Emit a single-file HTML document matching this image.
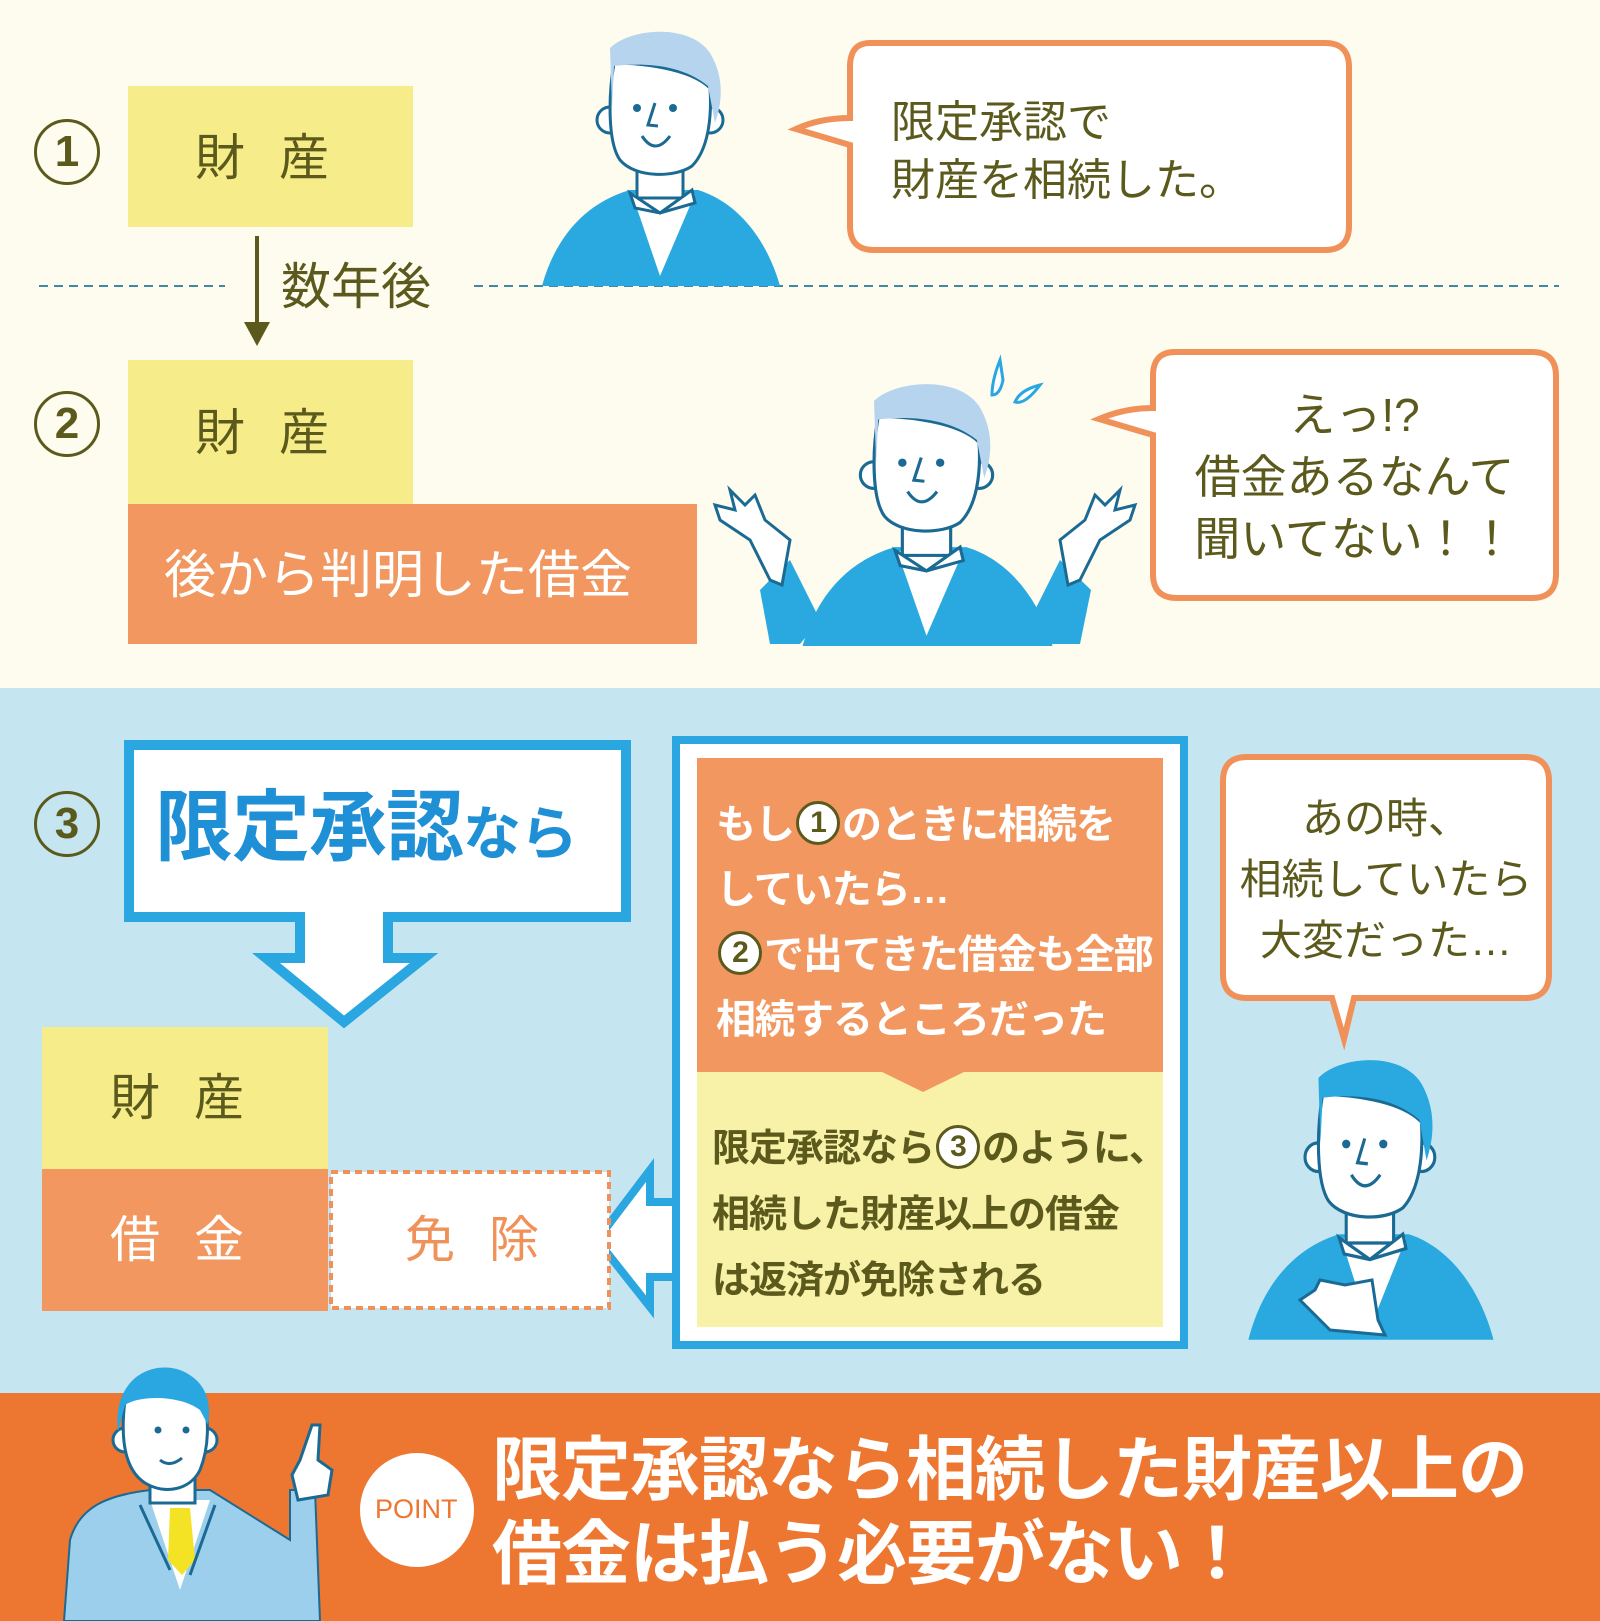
<!DOCTYPE html>
<html><head><meta charset="utf-8">
<style>
html,body{margin:0;padding:0;}
body{width:1600px;height:1621px;position:relative;overflow:hidden;background:#fdfcee;font-family:"Liberation Sans","Noto Sans CJK JP",sans-serif;}
.a{position:absolute;}
.t{position:absolute;white-space:nowrap;line-height:1;}
.num{position:absolute;width:66px;height:66px;border:3px solid #5b5a1c;border-radius:50%;box-sizing:border-box;color:#5b5a1c;font-weight:bold;font-size:44px;text-align:center;line-height:60px;font-family:"Liberation Sans",sans-serif;}
.sn{display:inline-block;width:44px;height:44px;border:3px solid #5b5a1c;border-radius:50%;background:#fff;color:#5b5a1c;box-sizing:border-box;font-size:30px;line-height:38px;text-align:center;vertical-align:middle;margin:0 2px;font-family:"Liberation Sans",sans-serif;font-weight:bold;position:relative;top:-4px}
</style></head><body>
<div class="a" style="left:0;top:688px;width:1600px;height:706px;background:#c5e6f1"></div>
<div class="a" style="left:0;top:1393px;width:1600px;height:228px;background:#ed7630"></div>

<svg class="a" style="left:0;top:0" width="1600" height="1621" viewBox="0 0 1600 1621">
<defs>
<g id="man">
 <path d="M12,268 C25,220 55,185 100,172 L168,172 C210,185 238,225 250,268 Z" fill="#29a9e0"/>
 <polygon points="102,176 165,176 130,258" fill="#fff"/>
 <rect x="107" y="140" width="46" height="40" fill="#fff" stroke="#1a6a94" stroke-width="3"/>
 <path d="M100,175 L130,195 L162,172 L165,185 L130,195 L105,190 Z" fill="#fff" stroke="#1a6a94" stroke-width="3"/>
 <circle cx="80" cy="102" r="13" fill="#fff" stroke="#1a6a94" stroke-width="3"/>
 <circle cx="180" cy="102" r="13" fill="#fff" stroke="#1a6a94" stroke-width="3"/>
 <path d="M84,45 C78,80 78,125 90,142 C105,160 145,160 162,148 C178,132 182,100 180,70 C160,50 110,45 84,45 Z" fill="#fff" stroke="#1a6a94" stroke-width="3"/>
 <path d="M80,30 C100,10 160,5 180,35 C195,60 192,85 185,105 L178,68 C150,45 110,45 84,48 L82,90 Z" fill="currentColor"/>
 <circle cx="107" cy="90" r="4" fill="#1a6a94"/><circle cx="143" cy="90" r="4" fill="#1a6a94"/>
 <path d="M125,85 L118,107 L128,108" fill="none" stroke="#1a6a94" stroke-width="3"/>
 <path d="M112,118 Q125,138 140,118" fill="#fff" stroke="#1a6a94" stroke-width="3"/>
</g>
</defs>
<line x1="39" y1="286" x2="225" y2="286" stroke="#3f88a6" stroke-width="2" stroke-dasharray="9,6"/>
<line x1="474" y1="286" x2="1559" y2="286" stroke="#3f88a6" stroke-width="2" stroke-dasharray="9,6"/>
<line x1="257" y1="236" x2="257" y2="325" stroke="#5b5a1c" stroke-width="4"/>
<polygon points="244,322 270,322 257,346" fill="#5b5a1c"/>
<g transform="translate(530,18)" color="#b6d4ee"><use href="#man"/></g>
<path d="M870,43 L1325,43 Q1349,43 1349,67 L1349,226 Q1349,250 1325,250 L874,250 Q850,250 850,226 L850,145 L796,129 Q820,118 850,118 L850,67 Q850,43 870,43 Z" fill="#fff" stroke="#f0915a" stroke-width="6"/>
<path d="M760,590 L790,560 L820,620 L800,644 L770,644 Z" fill="#29a9e0"/>
<path d="M1091,590 L1060,560 L1030,620 L1050,644 L1080,644 Z" fill="#29a9e0"/>
<path d="M770,580 L750,540 L720,520 L715,505 L735,510 L730,490 L745,505 L755,495 L765,520 L790,540 L782,585 Z" fill="#fff" stroke="#1a6a94" stroke-width="3"/>
<path d="M1080,580 L1100,540 L1130,520 L1135,505 L1115,510 L1120,490 L1105,505 L1095,495 L1085,520 L1060,540 L1068,585 Z" fill="#fff" stroke="#1a6a94" stroke-width="3"/>
<g transform="translate(790,370) scale(1.05,1.03)" color="#b6d4ee"><use href="#man"/></g>
<path d="M1000,360 Q992,380 992,395 Q1000,395 1003,380 Z" fill="#fff" stroke="#2aa6e0" stroke-width="3"/>
<path d="M1040,385 Q1020,390 1015,402 Q1025,405 1040,385 Z" fill="#fff" stroke="#2aa6e0" stroke-width="3"/>
<path d="M1175,352 L1532,352 Q1556,352 1556,376 L1556,574 Q1556,598 1532,598 L1177,598 Q1153,598 1153,574 L1153,435 L1099,419 Q1125,408 1153,408 L1153,376 Q1153,352 1175,352 Z" fill="#fff" stroke="#f0915a" stroke-width="6"/>

<path d="M129,745 L626,745 L626,917 L388,917 L388,958 L424,958 L344,1022 L266,958 L300,958 L300,917 L129,917 Z" fill="#fff" stroke="#2aa6e0" stroke-width="10"/>
<path d="M676,1202 L650,1202 L650,1170 L597,1240 L650,1307 L650,1277 L676,1277" fill="#fff" stroke="#2aa6e0" stroke-width="8"/>
<rect x="676" y="740" width="508" height="605" fill="#fff" stroke="#2aa6e0" stroke-width="8"/>
<rect x="697" y="758" width="466" height="314" fill="#f1975f"/>
<rect x="697" y="1072" width="466" height="255" fill="#f7f2a8"/>
<polygon points="880,1071 966,1071 923,1092" fill="#f1975f"/>
<path d="M1247,757 L1525,757 Q1549,757 1549,781 L1549,974 Q1549,998 1525,998 L1354,998 L1344,1039 L1332,998 L1247,998 Q1223,998 1223,974 L1223,781 Q1223,757 1247,757 Z" fill="#fff" stroke="#f0915a" stroke-width="6"/>
<g transform="translate(1236,1045) scale(1.03,1.1)" color="#29a9e0"><use href="#man"/></g>
<path d="M1330,1330 L1300,1300 L1315,1290 L1320,1280 L1345,1285 L1372,1280 L1378,1320 L1385,1335 Z" fill="#fff" stroke="#1a6a94" stroke-width="3"/>
<rect x="42" y="1027" width="286" height="142" fill="#f7ec8a"/>
<rect x="42" y="1169" width="286" height="142" fill="#f1975f"/>
<rect x="331" y="1172" width="278" height="136" fill="#fff" stroke="#f0915a" stroke-width="4" stroke-dasharray="7,5"/>
<path d="M64,1621 L70,1540 C80,1505 110,1495 150,1490 L210,1490 L290,1540 L290,1490 L315,1490 L320,1621 Z" fill="#9ccfec" stroke="#1a6a94" stroke-width="2"/>
<polygon points="150,1500 210,1500 180,1590" fill="#fff"/>
<polygon points="170,1508 190,1508 195,1560 182,1575 168,1560" fill="#f4e324"/>
<path d="M140,1505 L170,1570 M215,1505 L190,1575" stroke="#1a6a94" stroke-width="3" fill="none"/>
<rect x="150" y="1465" width="45" height="38" fill="#fff" stroke="#1a6a94" stroke-width="3"/>
<circle cx="125" cy="1440" r="12" fill="#fff" stroke="#1a6a94" stroke-width="3"/>
<circle cx="205" cy="1440" r="12" fill="#fff" stroke="#1a6a94" stroke-width="3"/>
<path d="M125,1400 C120,1440 125,1470 145,1483 C165,1495 190,1490 200,1470 C210,1445 208,1420 205,1400 C180,1390 140,1390 125,1400 Z" fill="#fff" stroke="#1a6a94" stroke-width="3"/>
<path d="M118,1432 C112,1380 150,1360 180,1370 C205,1380 212,1400 208,1425 L200,1410 C180,1395 140,1395 125,1405 Z" fill="#2aa6e0"/>
<circle cx="158" cy="1430" r="3.5" fill="#1a6a94"/><circle cx="186" cy="1430" r="3.5" fill="#1a6a94"/>
<path d="M160,1460 Q170,1468 182,1458" fill="none" stroke="#1a6a94" stroke-width="3"/>
<path d="M298,1500 L292,1475 L300,1460 L312,1425 L320,1425 L318,1460 L332,1470 L328,1495 Z" fill="#fff" stroke="#1a6a94" stroke-width="3"/>
<circle cx="417" cy="1510" r="57" fill="#fff"/>
</svg>

<div class="num" style="left:34px;top:119px">1</div>
<div class="num" style="left:34px;top:391px">2</div>
<div class="num" style="left:34px;top:791px">3</div>

<div class="a" style="left:128px;top:86px;width:285px;height:141px;background:#f7ec8a"></div>
<div class="t" style="left:195px;top:133px;font-size:50px;color:#5b5a1c;letter-spacing:34px">財産</div>
<div class="t" style="left:281px;top:262px;font-size:50px;color:#5b5a1c">数年後</div>
<div class="a" style="left:128px;top:360px;width:285px;height:144px;background:#f7ec8a"></div>
<div class="t" style="left:195px;top:408px;font-size:50px;color:#5b5a1c;letter-spacing:34px">財産</div>
<div class="a" style="left:128px;top:504px;width:569px;height:140px;background:#f1975f"></div>
<div class="t" style="left:164px;top:550px;font-size:52px;color:#fff">後から判明した借金</div>

<div class="t" style="left:891px;top:94px;font-size:44px;color:#5b5a1c;line-height:58px">限定承認で<br>財産を相続した。</div>
<div class="t" style="left:1153px;top:384px;width:403px;text-align:center;font-size:46px;color:#5b5a1c;line-height:62px">えっ!?<br>借金あるなんて<br>聞いてない！！</div>

<div class="t" style="left:155px;top:788px;font-size:78px;font-weight:bold;color:#1f8fd6;letter-spacing:-1px">限定承認<span style="font-size:58px">なら</span></div>
<div class="t" style="left:716px;top:793px;font-size:40px;font-weight:bold;color:#fff;line-height:65px;letter-spacing:-1px">もし<span class="sn">1</span>のときに相続を<br>していたら…<br><span class="sn">2</span>で出てきた借金も全部<br>相続するところだった</div>
<div class="t" style="left:712px;top:1116px;font-size:38px;font-weight:bold;color:#5b5a1c;line-height:66px;letter-spacing:-1px">限定承認なら<span class="sn">3</span>のように、<br>相続した財産以上の借金<br>は返済が免除される</div>
<div class="t" style="left:1223px;top:788px;width:326px;text-align:center;font-size:42px;color:#5b5a1c;line-height:61px">あの時、<br>相続していたら<br>大変だった…</div>

<div class="t" style="left:110px;top:1073px;font-size:50px;color:#5b5a1c;letter-spacing:34px">財産</div>
<div class="t" style="left:110px;top:1215px;font-size:50px;color:#fff;letter-spacing:34px">借金</div>
<div class="t" style="left:405px;top:1215px;font-size:50px;color:#f0915a;letter-spacing:34px">免除</div>

<div class="t" style="left:375px;top:1496px;font-size:27px;color:#ed7630;font-family:'Liberation Sans',sans-serif">POINT</div>
<div class="t" style="left:492px;top:1428px;font-size:70px;font-weight:bold;color:#fff;line-height:84px;letter-spacing:-1px">限定承認なら相続した財産以上の<br>借金は払う必要がない！</div>
</body></html>
